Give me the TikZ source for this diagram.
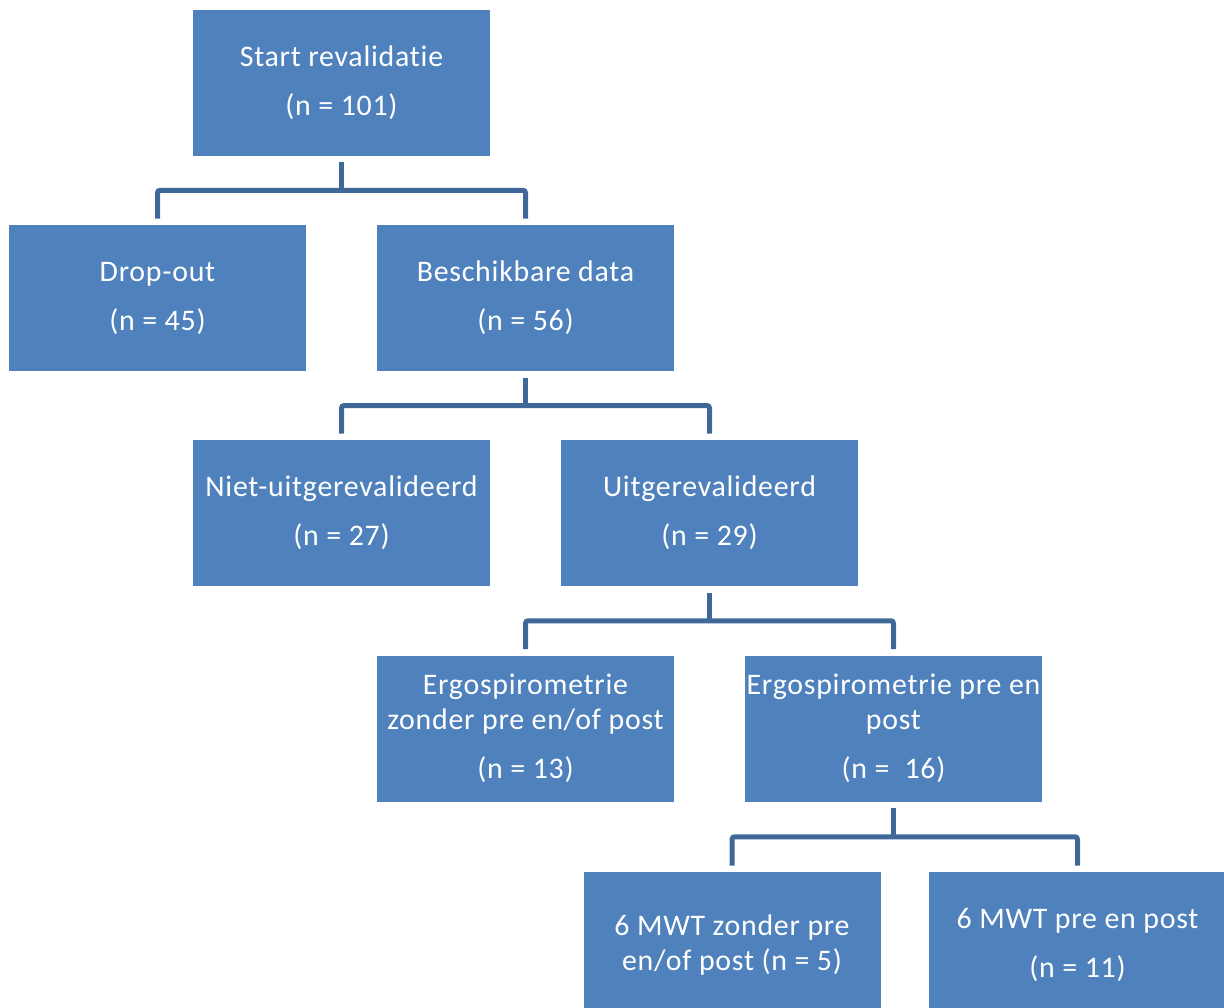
\documentclass[tikz,border=0pt]{standalone}
\usepackage{fontspec}
\setsansfont[Ligatures=NoCommon,LetterSpace=2.5]{Carlito}
\usepackage{tikz}
\usepackage{xcolor}
\usetikzlibrary{calc,positioning}
\definecolor{chartBlue}{RGB}{79,129,189}
\definecolor{chartLine}{RGB}{63,104,153}

\begin{document}
\begin{tikzpicture}[
  font=\sffamily\fontsize{17}{19.9}\selectfont,
  box/.style={fill=chartBlue,draw=none,text=white,align=center,inner sep=0pt,
    minimum width=5.94cm,minimum height=2.92cm},
  link/.style={draw=chartLine,line width=0.1cm,rounded corners=1.5pt}
]
\useasboundingbox (0,0) rectangle (24.48,-20.14);

\node[box] (start) at (6.83,-1.65) {Start revalidatie\\[8pt](n = 101)};

\node[box] (dropout) at (3.15,-5.96) {Drop-out\\[8pt](n = 45)};
\node[box] (data) at (10.51,-5.96) {Beschikbare data\\[8pt](n = 56)};

\node[box] (niet) at (6.83,-10.26) {Niet-uitgerevalideerd\\[8pt](n = 27)};
\node[box] (uitger) at (14.19,-10.26) {Uitgerevalideerd\\[8pt](n = 29)};

\node[box] (ergozonder) at (10.51,-14.57) {Ergospirometrie\\zonder pre en/of post\\[8pt](n = 13)};
\node[box] (ergopre) at (17.87,-14.57) {Ergospirometrie pre en\\post\\[8pt](n =\ \ 16)};

\node[box] (mwtzonder) at (14.64,-18.9) {6 MWT zonder pre\\en/of post (n = 5)};
\node[box] (mwtpre) at (21.55,-18.9) {6 MWT pre en post\\[8pt](n = 11)};

% tree connectors
\coordinate (bus1) at ($(start.south)!0.5!(data.north)$);
\draw[link] ([yshift=-0.13cm]start.south) -- (start.south |- bus1);
\draw[link] ([yshift=0.12cm]dropout.north) |- (bus1) -| ([yshift=0.12cm]data.north);

\coordinate (bus2) at ($(data.south)!0.5!(uitger.north)$);
\draw[link] ([yshift=-0.13cm]data.south) -- (data.south |- bus2);
\draw[link] ([yshift=0.12cm]niet.north) |- (bus2) -| ([yshift=0.12cm]uitger.north);

\coordinate (bus3) at ($(uitger.south)!0.5!(ergopre.north)$);
\draw[link] ([yshift=-0.13cm]uitger.south) -- (uitger.south |- bus3);
\draw[link] ([yshift=0.12cm]ergozonder.north) |- (bus3) -| ([yshift=0.12cm]ergopre.north);

\coordinate (bus4) at ($(ergopre.south)!0.5!(mwtpre.north)$);
\draw[link] ([yshift=-0.13cm]ergopre.south) -- (ergopre.south |- bus4);
\draw[link] ([yshift=0.12cm]mwtzonder.north) |- (bus4) -| ([yshift=0.12cm]mwtpre.north);

\end{tikzpicture}
\end{document}
